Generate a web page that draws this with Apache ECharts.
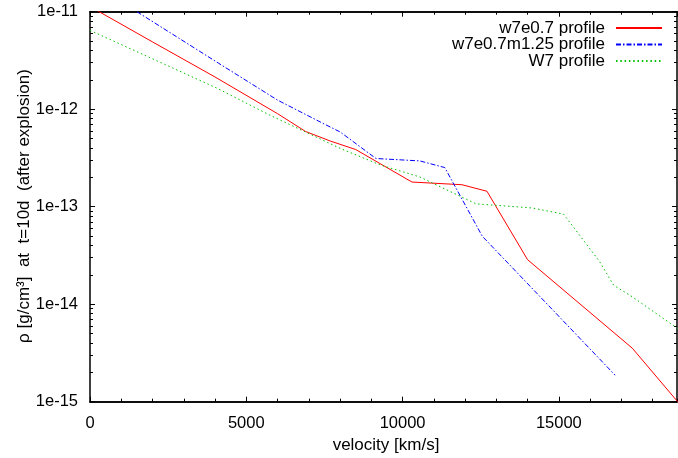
<!DOCTYPE html>
<html><head><meta charset="utf-8">
<script src="https://cdn.jsdelivr.net/npm/echarts@6/dist/echarts.min.js"></script>
<style>html,body{margin:0;padding:0;background:#fff}#c{width:678px;height:458px}</style>
</head><body><div id="c"></div>
<script>
const seriesNames = ['w7e0.7 profile', 'w7e0.7m1.25 profile', 'W7 profile'];

const redVelocity = [0, 2000, 4000, 6000, 6900, 7700, 8500, 10300, 11900, 12700, 14000, 17350, 18800];
const redDensity  = [1.13e-11, 4.9e-12, 2.14e-12, 9.0e-13, 5.9e-13, 4.7e-13, 3.86e-13, 1.79e-13, 1.68e-13, 1.44e-13, 2.86e-14, 3.54e-15, 1.0e-15];

const blueVelocity = [1500, 4100, 6000, 7550, 8000, 9150, 10550, 11350, 12550, 16800];
const blueDensity  = [1.0e-11, 2.98e-12, 1.24e-12, 6.9e-13, 5.85e-13, 3.12e-13, 2.95e-13, 2.52e-13, 4.98e-14, 1.87e-15];

const greenVelocity = [0, 4050, 5750, 8000, 9300, 10550, 12350, 14150, 15150, 16300, 16750, 17350, 18800];
const greenDensity  = [6.44e-12, 1.65e-12, 8.7e-13, 3.97e-13, 2.67e-13, 2.02e-13, 1.07e-13, 9.7e-14, 8.4e-14, 2.75e-14, 1.57e-14, 1.19e-14, 5.64e-15];

const xTickLabels = ['0', '5000', '10000', '15000'];
const yTickLabels = ['1e-15', '1e-14', '1e-13', '1e-12', '1e-11'];
const xTitle = 'velocity [km/s]';
const yTitle = 'ρ [g/cm³]  at  t=10d  (after explosion)';

const X_MIN = 0, X_MAX = 18780, Y_MIN = 1e-15, Y_MAX = 1e-11;
const FONT = 'Liberation Sans, Arial, Helvetica, sans-serif';
const TXT = '#000';

function pairs(xs, ys) { return xs.map((x, i) => [x, ys[i]]); }

function xAxisDef(pos, interval, len, labels) {
  return {
    type: 'value', position: pos, min: X_MIN, max: X_MAX, interval: interval,
    axisLine: { show: true, onZero: false, lineStyle: { color: '#000', width: 1.5 } },
    axisTick: { show: true, inside: true, length: len, lineStyle: { color: '#000', width: 1 } },
    axisLabel: labels ? {
      show: true, margin: 13, fontSize: 16.5, fontFamily: FONT, color: TXT,
      showMaxLabel: false,
      formatter: v => { const i = Math.round(v / 5000); return (Math.abs(v - i * 5000) < 1e-6 && i < labels.length) ? labels[i] : ''; }
    } : { show: false },
    splitLine: { show: false }
  };
}
function yAxisDef(pos, labels) {
  return {
    type: 'log', logBase: 10, position: pos, min: Y_MIN, max: Y_MAX,
    axisLine: { show: true, onZero: false, lineStyle: { color: '#000', width: 1.5 } },
    axisTick: { show: true, inside: true, length: 5, lineStyle: { color: '#000', width: 1 } },
    minorTick: { show: true, splitNumber: 9, length: 3, lineStyle: { color: '#000', width: 1 } },
    axisLabel: labels ? {
      show: true, margin: 12, fontSize: 16.5, fontFamily: FONT, color: TXT,
      formatter: v => { const e = Math.round(Math.log10(v)); return labels[e + 15] || ''; }
    } : { show: false },
    splitLine: { show: false }, minorSplitLine: { show: false }
  };
}

const chart = echarts.init(document.getElementById('c'), null, { renderer: 'canvas' });
chart.setOption({
  animation: false,
  backgroundColor: '#fff',
  grid: { left: 90, right: 1, top: 11.7, bottom: 56.3, containLabel: false },
  xAxis: [
    xAxisDef('bottom', 5000, 5, xTickLabels),
    xAxisDef('bottom', 1000, 3, null),
    xAxisDef('top', 5000, 5, null),
    xAxisDef('top', 1000, 3, null)
  ],
  yAxis: [yAxisDef('left', yTickLabels), yAxisDef('right', null)],
  legend: {
    show: true, orient: 'vertical', right: 15, top: 19.5, align: 'right', padding: 0,
    itemWidth: 46, itemHeight: 10, itemGap: -0.5,
    itemStyle: { opacity: 0, borderWidth: 0 },
    textStyle: { fontSize: 17, fontFamily: FONT, color: TXT, padding: [0, 6, 0, 0] },
    data: seriesNames
  },
  series: [
    { name: seriesNames[0], type: 'line', xAxisIndex: 0, yAxisIndex: 0, symbol: 'none', clip: true,
      lineStyle: { color: '#ff0000', width: 1 }, itemStyle: { color: '#ff0000' },
      data: pairs(redVelocity, redDensity) },
    { name: seriesNames[1], type: 'line', xAxisIndex: 0, yAxisIndex: 0, symbol: 'none', clip: true,
      lineStyle: { color: '#0000ff', width: 1, type: [5, 2, 1.5, 2] }, itemStyle: { color: '#0000ff' },
      data: pairs(blueVelocity, blueDensity) },
    { name: seriesNames[2], type: 'line', xAxisIndex: 0, yAxisIndex: 0, symbol: 'none', clip: true,
      lineStyle: { color: '#00c000', width: 1, type: [1.5, 2.8] }, itemStyle: { color: '#00c000' },
      data: pairs(greenVelocity, greenDensity) }
  ],
  graphic: [
    { type: 'text', x: 386, y: 445,
      style: { text: xTitle, font: '17px ' + FONT, fill: TXT, textAlign: 'center', textVerticalAlign: 'middle' } },
    { type: 'text', x: 24, y: 206, rotation: Math.PI / 2,
      style: { text: yTitle, font: '17px ' + FONT, fill: TXT, textAlign: 'center', textVerticalAlign: 'middle' } }
  ]
});
</script>
</body></html>
